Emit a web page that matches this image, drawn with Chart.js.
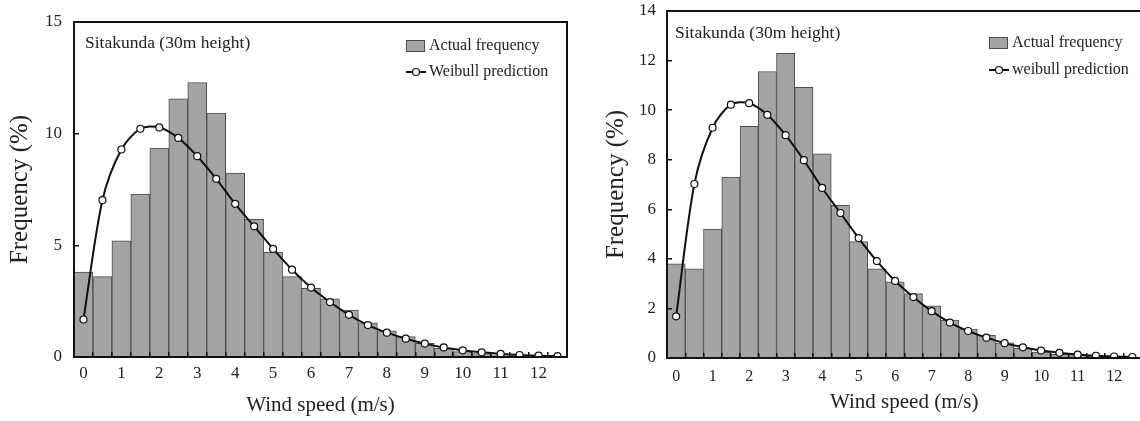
<!DOCTYPE html>
<html>
<head>
<meta charset="utf-8">
<title>Sitakunda wind speed distribution</title>
<script src="https://cdn.jsdelivr.net/npm/chart.js@4.4.1/dist/chart.umd.min.js"></script>
<style>
  html, body { margin: 0; padding: 0; background: #fff; overflow: hidden; }
  #wrap { position: relative; width: 1140px; height: 421px; overflow: hidden; }
  #leftBox { position: absolute; left: 0; top: 0; width: 580px; height: 421px; }
  #rightBox { position: absolute; left: 590px; top: 0; width: 560px; height: 421px; }
</style>
</head>
<body>
<div id="wrap">
  <div id="leftBox"><canvas id="leftChart" width="580" height="421"></canvas></div>
  <div id="rightBox"><canvas id="rightChart" width="560" height="421"></canvas></div>
</div>
<script>
// wind speed bins (m/s), one bar every 0.5
const speeds = ['0', '0.5', '1', '1.5', '2', '2.5', '3', '3.5', '4', '4.5', '5', '5.5', '6',
  '6.5', '7', '7.5', '8', '8.5', '9', '9.5', '10', '10.5', '11', '11.5', '12', '12.5'];

// measured frequency (%)
const actualFreq = [3.8, 3.6, 5.2, 7.3, 9.35, 11.56, 12.29, 10.92, 8.24, 6.16, 4.7, 3.6, 3.07,
  2.6, 2.1, 1.53, 1.17, 0.91, 0.61, 0.39, 0.24, 0.15, 0.1, 0.07, 0.05, 0.03];

// fitted Weibull frequency (%)
const weibullFreq = [1.68, 7.02, 9.29, 10.22, 10.28, 9.81, 8.99, 7.98, 6.86, 5.85, 4.84, 3.91, 3.11,
  2.46, 1.89, 1.43, 1.09, 0.82, 0.6, 0.43, 0.3, 0.21, 0.14, 0.09, 0.06, 0.04];

const leftYTicks = [0, 5, 10, 15];
const rightYTicks = [0, 2, 4, 6, 8, 10, 12, 14];

const siteLabel = 'Sitakunda (30m height)';
const barLabel = 'Actual frequency';

Chart.defaults.font.family = '"Liberation Serif", "Times New Roman", serif';
Chart.defaults.color = '#222';

// box around the plot area
const framePlugin = {
  id: 'frame',
  afterDraw(chart) {
    const { ctx, chartArea: a } = chart;
    ctx.save();
    ctx.strokeStyle = '#111';
    ctx.lineWidth = 2;
    ctx.strokeRect(a.left, a.top, a.right - a.left, a.bottom - a.top);
    ctx.restore();
  }
};

// site name and the small legend inside the plot
const notePlugin = {
  id: 'panelNote',
  afterDraw(chart, args, opts) {
    const { ctx, chartArea: a } = chart;
    const bars = chart.data.datasets[0];
    const line = chart.data.datasets[1];
    ctx.save();
    ctx.textBaseline = 'middle';
    ctx.fillStyle = '#222';
    ctx.font = '17.5px "Liberation Serif"';
    ctx.fillText(opts.text, a.left + opts.textX, a.top + opts.textY);

    ctx.font = '16px "Liberation Serif"';
    let x = a.left + opts.legendX;
    let y = a.top + opts.legendY;
    ctx.fillStyle = bars.backgroundColor;
    ctx.fillRect(x, y - 6, 19, 12);
    ctx.strokeStyle = bars.borderColor;
    ctx.lineWidth = 1;
    ctx.strokeRect(x + 0.5, y - 5.5, 18, 11);
    ctx.fillStyle = '#222';
    ctx.fillText(bars.label, x + 23, y);

    y += opts.rowGap;
    ctx.strokeStyle = line.borderColor;
    ctx.lineWidth = 2;
    ctx.beginPath();
    ctx.moveTo(x, y);
    ctx.lineTo(x + 20, y);
    ctx.stroke();
    ctx.beginPath();
    ctx.arc(x + 10, y, 3.5, 0, Math.PI * 2);
    ctx.fillStyle = '#fff';
    ctx.fill();
    ctx.lineWidth = 1.2;
    ctx.stroke();
    ctx.fillStyle = '#222';
    ctx.fillText(line.label, x + 23, y);
    ctx.restore();
  }
};

// keep the plot area where layout.padding puts it
function noEdgePadding(s) {
  s.paddingTop = 0;
  s.paddingBottom = 0;
  s.paddingLeft = 0;
  s.paddingRight = 0;
}

function makeChart(id, cfg) {
  return new Chart(document.getElementById(id), {
    type: 'bar',
    data: {
      labels: speeds,
      datasets: [{
        label: barLabel,
        data: actualFreq,
        backgroundColor: '#a4a4a4',
        borderColor: '#4d4d4d',
        borderWidth: 1,
        barPercentage: 1,
        categoryPercentage: 1,
        order: 2
      }, {
        type: 'line',
        label: cfg.lineLabel,
        data: weibullFreq,
        borderColor: '#111',
        borderWidth: 2,
        tension: 0.3,
        pointRadius: 3.5,
        pointBackgroundColor: '#fff',
        pointBorderColor: '#111',
        pointBorderWidth: 1.2,
        order: 1
      }]
    },
    plugins: [framePlugin, notePlugin],
    options: {
      responsive: false,
      animation: false,
      layout: { padding: cfg.padding },
      plugins: {
        legend: { display: false },
        tooltip: { enabled: false },
        panelNote: cfg.note
      },
      scales: {
        x: {
          type: 'category',
          offset: true,
          afterFit: s => { s.height = cfg.xHeight; noEdgePadding(s); },
          grid: { offset: true, drawOnChartArea: false, tickLength: -5, color: '#111', lineWidth: 1.5, z: 1 },
          border: { color: '#111', width: 2, z: 2 },
          ticks: {
            autoSkip: false,
            maxRotation: 0,
            padding: cfg.xTickPad,
            font: { size: cfg.xTickSize },
            callback: function (v) {
              const s = this.getLabelForValue(v);
              return Number(s) % 1 === 0 ? s : '';
            }
          },
          title: {
            display: true,
            text: 'Wind speed (m/s)',
            font: { size: 21 },
            padding: { top: 0, bottom: cfg.xTitlePad }
          }
        },
        y: {
          min: 0,
          max: cfg.yTicks[cfg.yTicks.length - 1],
          afterFit: s => { s.width = cfg.yWidth; noEdgePadding(s); },
          afterBuildTicks: s => { s.ticks = cfg.yTicks.map(v => ({ value: v })); },
          grid: { drawOnChartArea: false, tickLength: -5, color: '#111', lineWidth: 1.5, z: 1 },
          border: { color: '#111', width: 2, z: 2 },
          ticks: { padding: cfg.yTickPad, font: { size: 17 } },
          title: {
            display: true,
            text: 'Frequency (%)',
            font: { size: 25 },
            padding: { top: cfg.yTitlePad, bottom: 0 }
          }
        }
      }
    }
  });
}

makeChart('leftChart', {
  lineLabel: 'Weibull prediction',
  yTicks: leftYTicks,
  padding: { top: 22, right: 13, left: 0, bottom: 0 },
  xHeight: 64,
  yWidth: 74,
  xTickPad: 11,
  xTickSize: 17,
  xTitlePad: 3,
  yTickPad: 17,
  yTitlePad: 5,
  note: { text: siteLabel, textX: 11, textY: 21, legendX: 332, legendY: 24, rowGap: 26 }
});

makeChart('rightChart', {
  lineLabel: 'weibull prediction',
  yTicks: rightYTicks,
  padding: { top: 11, right: 8.5, left: 0, bottom: 0 },
  xHeight: 63,
  yWidth: 77,
  xTickPad: 14,
  xTickSize: 16,
  xTitlePad: 6,
  yTickPad: 16,
  yTitlePad: 11,
  note: { text: siteLabel, textX: 8, textY: 22, legendX: 322, legendY: 32, rowGap: 27 }
});
</script>
</body>
</html>
